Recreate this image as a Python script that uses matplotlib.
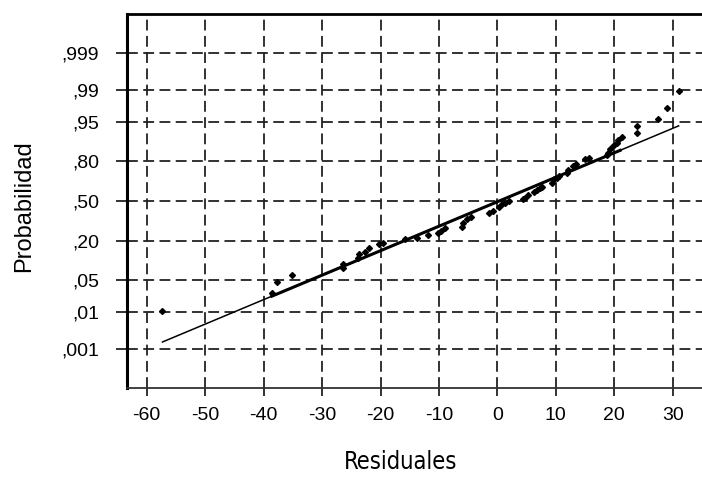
import matplotlib
matplotlib.use("Agg")
import matplotlib.pyplot as plt
from statistics import NormalDist

# ---- data ----
residuals = [-57.4, -38.6, -37.7, -35.2, -26.5, -26.5, -23.8, -23.6, -22.6, -21.9,
             -20.2, -19.6, -15.8, -13.8, -11.8, -10.2, -9.6, -9.0, -6.1, -5.9,
             -5.2, -4.6, -1.5, -0.7, 0.2, 0.8, 1.3, 1.9, 4.4, 4.7,
             5.3, 6.2, 6.7, 7.3, 7.6, 9.3, 9.6, 10.2, 10.6, 11.9,
             12.1, 13.0, 13.5, 15.0, 15.6, 18.7, 19.0, 19.3, 19.7, 20.4,
             20.6, 21.3, 23.8, 23.8, 27.5, 29.0, 31.0]
probabilities = [0.0107, 0.0277, 0.0458, 0.061, 0.080, 0.093, 0.116, 0.133, 0.145, 0.165,
                 0.183, 0.192, 0.212, 0.222, 0.239, 0.255, 0.265, 0.284, 0.296, 0.321,
                 0.351, 0.371, 0.399, 0.420, 0.453, 0.471, 0.481, 0.496, 0.514, 0.529,
                 0.546, 0.577, 0.591, 0.605, 0.617, 0.649, 0.675, 0.688, 0.699, 0.723,
                 0.741, 0.768, 0.780, 0.808, 0.814, 0.832, 0.841, 0.860, 0.875, 0.886,
                 0.899, 0.910, 0.921, 0.941, 0.956, 0.974, 0.989]
fit_mean = 0.3
fit_sd = 19.55
fit_range = [-57.3, 31.0]
fit_thick_range = [-38.6, 21.0]

ytick_probs = [0.999, 0.99, 0.95, 0.80, 0.50, 0.20, 0.05, 0.01, 0.001]
ytick_labels = [",999", ",99", ",95", ",80", ",50", ",20", ",05", ",01", ",001"]
xticks = [-60, -50, -40, -30, -20, -10, 0, 10, 20, 30]
xtick_labels = ["-60", "-50", "-40", "-30", "-20", "-10", "0", "10", "20", "30"]

nd = NormalDist()
z = [nd.inv_cdf(p) for p in probabilities]
yt = [nd.inv_cdf(p) for p in ytick_probs]

fig = plt.figure(figsize=(7.02, 4.96), dpi=100)
ax = fig.add_axes([127/702, 1-388/496, (702-127)/702, (388-14.3)/496])

ax.set_xlim(-63.37, 35.0)
ax.set_ylim(-3.908, 3.902)

# grid
for xv in xticks:
    ax.axvline(xv, color="#222222", lw=1.3, dashes=(6, 3), zorder=1)
for yv in yt:
    ax.axhline(yv, color="#222222", lw=1.3, dashes=(6, 3), zorder=1)

# fitted line
lx = fit_range
ly = [(v - fit_mean) / fit_sd for v in lx]
ax.plot(lx, ly, color="black", lw=1.1, zorder=3)
tx = fit_thick_range
ty = [(v - fit_mean) / fit_sd for v in tx]
ax.plot(tx, ty, color="black", lw=2.2, zorder=3)

ax.plot(residuals, z, linestyle="none", marker="D", markersize=3.0,
        color="black", zorder=4)

ax.set_xticks(xticks)
ax.set_xticklabels(xtick_labels)
ax.set_yticks(yt)
ax.set_yticklabels(ytick_labels)

for lab in ax.get_xticklabels() + ax.get_yticklabels():
    lab.set_fontfamily("Liberation Sans")
    lab.set_fontsize(14)
    lab.set_color("#000000")

ax.tick_params(axis="x", length=6, width=1.3, pad=8, direction="out", color="#222222")
ax.tick_params(axis="y", length=8, width=1.3, pad=12, direction="out", color="#222222")

ax.spines["right"].set_visible(False)
ax.spines["left"].set_linewidth(2.2)
ax.spines["top"].set_linewidth(2.0)
ax.spines["bottom"].set_linewidth(1.3)
ax.spines["bottom"].set_color("#333333")
for s in ["left", "top", "bottom"]:
    ax.spines[s].set_zorder(5)

fig.text(24/702, 1-206/496, "Probabilidad", rotation=90, ha="center", va="center",
         fontsize=17, family="Liberation Sans", color="#000000")
fig.text(401/702, 1-462/496, "Residuales", ha="center", va="center",
         fontsize=17, family="DejaVu Sans", fontstretch="condensed", color="#000000")

fig.savefig("out.png", dpi=100)
